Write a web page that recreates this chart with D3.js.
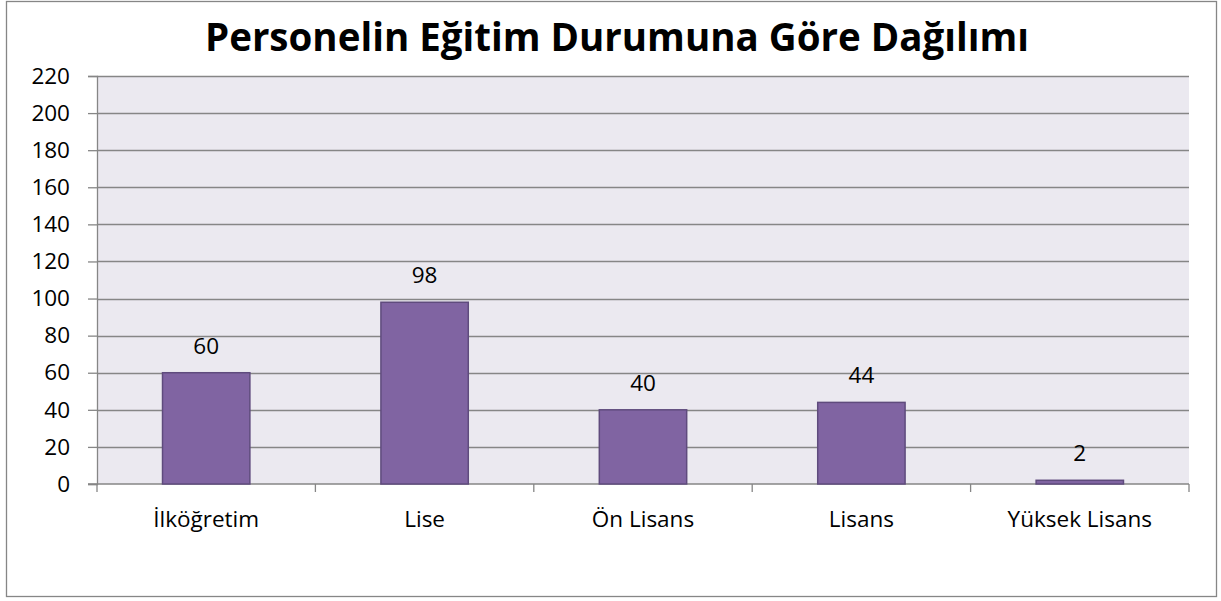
<!DOCTYPE html>
<html>
<head>
<meta charset="utf-8">
<script src="https://cdn.jsdelivr.net/npm/d3@7"></script>
<style>
  body { margin: 0; background: #fff; }
  svg text { font-family: "Open Sans", "Noto Sans", sans-serif; fill: #000; }
</style>
</head>
<body>
<div id="chart"></div>
<script>
const categories = ["İlköğretim", "Lise", "Ön Lisans", "Lisans", "Yüksek Lisans"]
const values = [60, 98, 40, 44, 2]
const yTicks = [0, 20, 40, 60, 80, 100, 120, 140, 160, 180, 200, 220]
const title = "Personelin Eğitim Durumuna Göre Dağılımı"

const width = 1221
const height = 601
const margin = { top: 76, right: 32, bottom: 117, left: 97 }
const fontSize = "22.5px"

const svg = d3.select("#chart").append("svg")
  .attr("width", width)
  .attr("height", height)

// outer frame
svg.append("rect")
  .attr("x", 6.5).attr("y", 1.5)
  .attr("width", 1210).attr("height", 595)
  .attr("fill", "#fff")
  .attr("stroke", "#868686")
  .attr("stroke-width", 1.3)

const x = d3.scaleBand()
  .domain(categories)
  .range([margin.left, width - margin.right])
  .paddingInner(0.6)
  .paddingOuter(0.3)

const y = d3.scaleLinear()
  .domain([0, 220])
  .range([height - margin.bottom, margin.top])

// plot background
svg.append("rect")
  .attr("x", margin.left).attr("y", margin.top)
  .attr("width", width - margin.right - margin.left)
  .attr("height", y(0) - margin.top)
  .attr("fill", "#EBE9F0")

// gridlines
svg.append("g")
  .selectAll("line")
  .data(yTicks.filter(d => d > 0))
  .enter()
  .append("line")
  .attr("x1", margin.left)
  .attr("x2", width - margin.right)
  .attr("y1", d => Math.round(y(d)) + 0.5)
  .attr("y2", d => Math.round(y(d)) + 0.5)
  .attr("stroke", "#868686")
  .attr("stroke-width", 1.3)

// y axis
const yAxis = d3.axisLeft(y).tickValues(yTicks).tickSize(9).tickPadding(18)
const gy = svg.append("g")
  .attr("transform", `translate(${margin.left}, 0)`)
  .call(yAxis)
gy.selectAll("path, line").attr("stroke", "#868686").attr("stroke-width", 1.3)
gy.selectAll("text").attr("font-size", fontSize).attr("font-family", "Open Sans, Noto Sans, sans-serif")

// x axis with ticks between categories
const xEdge = d3.scaleLinear().domain([0, categories.length]).range([margin.left, width - margin.right])
const gx = svg.append("g").attr("transform", `translate(0, ${y(0)})`)
gx.append("line")
  .attr("x1", margin.left - 9).attr("x2", width - margin.right)
  .attr("stroke", "#868686").attr("stroke-width", 1.3)
gx.selectAll("line.tick")
  .data(d3.range(categories.length + 1))
  .enter()
  .append("line")
  .attr("class", "tick")
  .attr("x1", d => xEdge(d)).attr("x2", d => xEdge(d))
  .attr("y1", 0).attr("y2", 8)
  .attr("stroke", "#868686").attr("stroke-width", 1.3)
gx.selectAll("text")
  .data(categories)
  .enter()
  .append("text")
  .attr("x", d => x(d) + x.bandwidth() / 2)
  .attr("y", 43)
  .attr("text-anchor", "middle")
  .attr("font-size", fontSize)
  .text(d => d)

// bars
svg.selectAll("rect.bar")
  .data(values)
  .enter()
  .append("rect")
  .attr("class", "bar")
  .attr("x", (d, i) => x(categories[i]))
  .attr("y", d => y(d))
  .attr("width", x.bandwidth())
  .attr("height", d => y(0) - y(d))
  .attr("fill", "#8064A2")
  .attr("stroke", "#5F4B7D")
  .attr("stroke-width", 1.5)

// value labels
svg.selectAll("text.val")
  .data(values)
  .enter()
  .append("text")
  .attr("class", "val")
  .attr("x", (d, i) => x(categories[i]) + x.bandwidth() / 2)
  .attr("y", d => y(d) - 19)
  .attr("text-anchor", "middle")
  .attr("font-size", fontSize)
  .text(d => d)

// title
svg.append("text")
  .attr("x", 617)
  .attr("y", 51)
  .attr("text-anchor", "middle")
  .attr("font-size", "38.5px")
  .attr("font-weight", "bold")
  .text(title)
</script>
</body>
</html>
